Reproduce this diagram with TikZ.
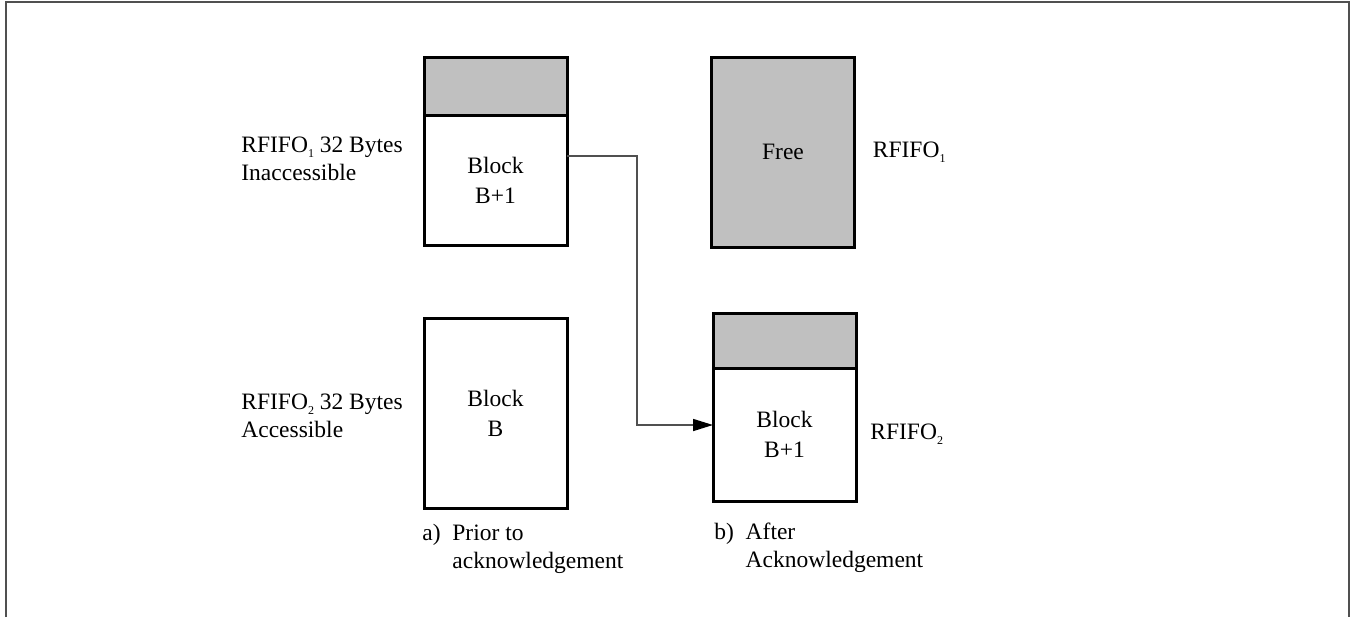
\documentclass[tikz,border=0pt]{standalone}
\usepackage{fontspec}
\setmainfont{Liberation Serif}
\usetikzlibrary{positioning,arrows.meta}
\definecolor{boxgray}{HTML}{C0C0C0}
\definecolor{linegray}{HTML}{505050}
\newcommand{\fifosub}[1]{\raisebox{-0.45ex}{\fontsize{6}{6}\selectfont #1}}

\begin{document}
\begin{tikzpicture}[
    x=0.5pt, y=-0.5pt,
    font=\fontsize{11.75}{14}\selectfont,
    block/.style={
        rectangle,
        draw=black,
        line width=1.5pt,
        outer sep=0pt,
        minimum width=71.5pt,
        align=center,
        font=\fontsize{11.75}{15}\selectfont,
        fill=white
    },
    band/.style={
        block,
        fill=boxgray
    },
    note/.style={align=left, inner sep=0pt, anchor=west},
    arrow/.style={-{Triangle[length=10pt,width=6pt,black]}, draw=linegray, line width=0.8pt},
    frame/.style={draw=linegray, line width=1pt}
]
    \useasboundingbox (0,0) rectangle (1351,617);

    % Outer frame (open at the bottom)
    \draw[frame] (5.5,617) -- (5.5,1.5) -- (1348.5,1.5) -- (1348.5,617);

    % a) Prior to acknowledgement
    \node[block, minimum height=65pt] (blkA) at (495.5,180) {Block\\B+1};
    \node[band, minimum height=29pt, above=0pt of blkA] (blkAtop) {};
    \node[block, minimum height=95pt] (blkB) at (495.5,413) {Block\\B};

    % b) After acknowledgement
    \node[band, minimum height=95pt] (free) at (783,152) {Free};
    \node[block, minimum height=66.5pt] (blkC) at (784.5,434.5) {Block\\B+1};
    \node[band, minimum height=27.5pt, above=0pt of blkC] (blkCtop) {};

    % Labels
    \node[note] (fifoA) at (241,159) {RFIFO\fifosub{1} 32 Bytes\\Inaccessible};
    \node[note] (fifoB) at (241,416) {RFIFO\fifosub{2} 32 Bytes\\Accessible};
    \node[note, right=9pt of free] (fifoC) {RFIFO\fifosub{1}};
    \node[note, right=7pt of blkC] (fifoD) {RFIFO\fifosub{2}};

    \node[note] (capA) at (422,549) {a)\hspace{0.5em}Prior to\\\phantom{a)}\hspace{0.5em}acknowledgement};
    \node[note] (capB) at (714,548) {b)\hspace{0.5em}After\\\phantom{b)}\hspace{0.5em}Acknowledgement};

    % Block B+1 moves from RFIFO1 to RFIFO2
    \draw[arrow] ([yshift=12pt]blkA.east) -- ++(70,0) |- ([yshift=4.75pt]blkC.west);
\end{tikzpicture}
\end{document}
